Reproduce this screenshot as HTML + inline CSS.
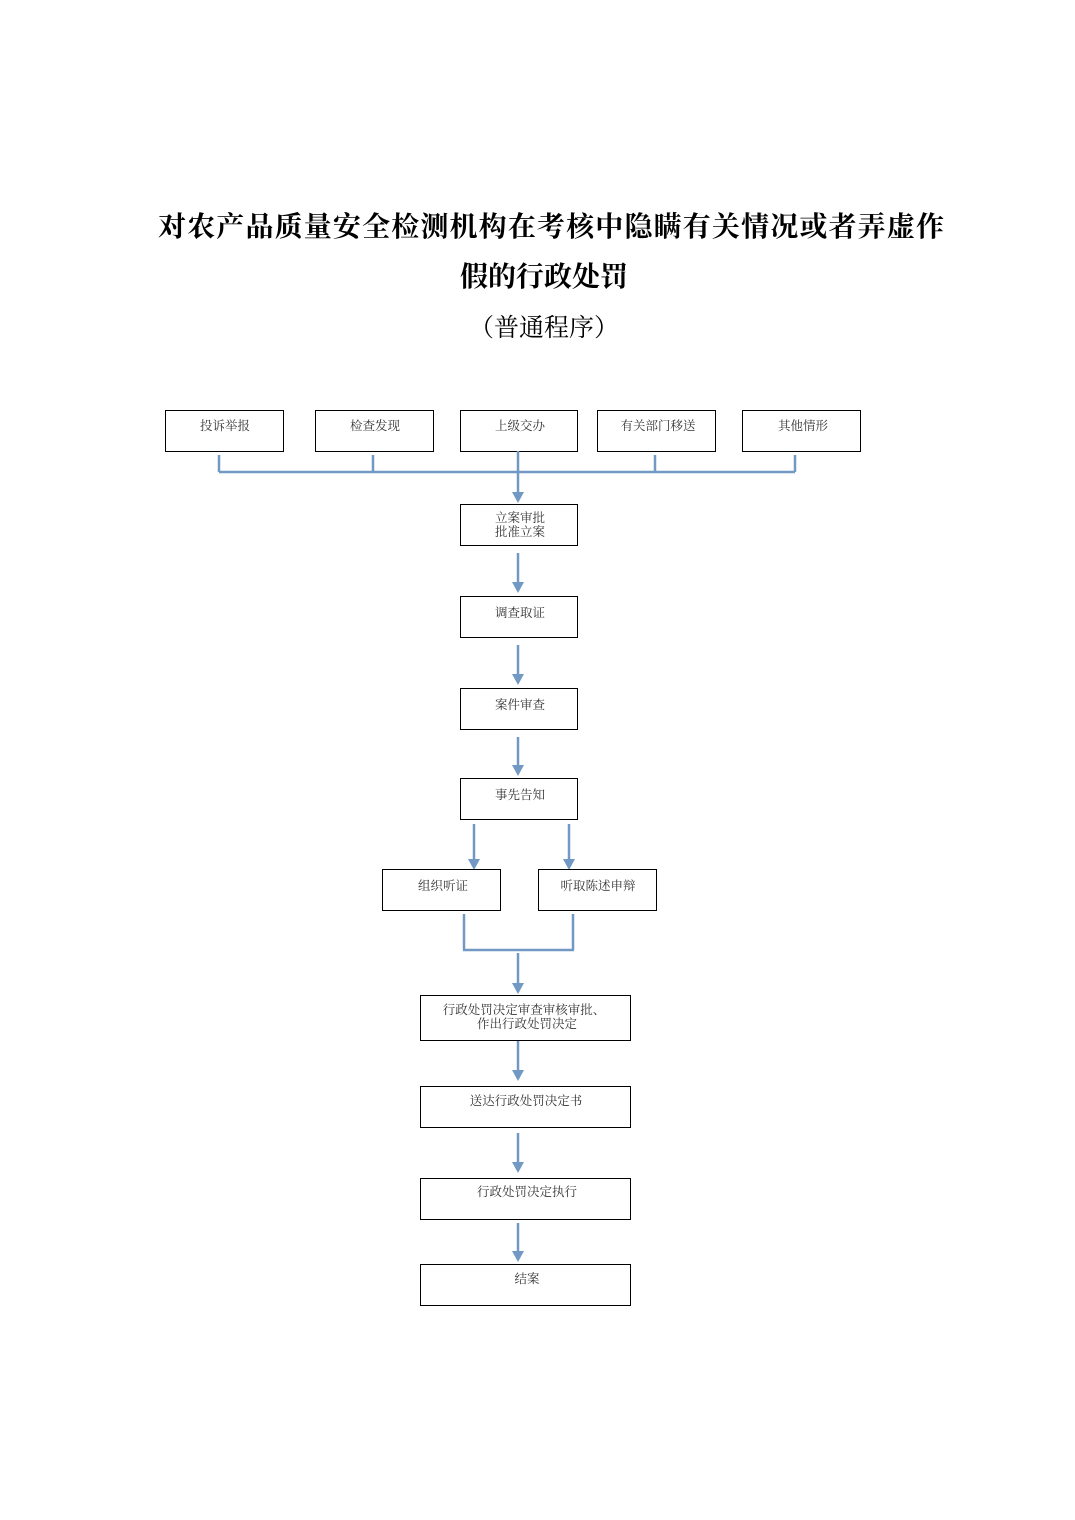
<!DOCTYPE html>
<html><head><meta charset="utf-8"><style>
html,body{margin:0;padding:0;background:#fff;}
svg{display:block}
.t{font-family:"Liberation Serif","Noto Serif CJK SC",serif;font-weight:bold;font-size:28px;fill:#000}
.s{font-family:"Liberation Serif","Noto Serif CJK SC",serif;font-size:25px;fill:#000}
.b{fill:#fff;stroke:#000;stroke-width:1}
.l{font-family:"Liberation Serif","Noto Serif CJK SC",serif;font-size:12.5px;fill:#333}
.c{stroke:#7199c4;stroke-width:2.5;fill:none}
.a{fill:#7199c4}
</style></head><body>
<svg width="1075" height="1520" viewBox="0 0 1075 1520" xmlns="http://www.w3.org/2000/svg">
<text class="t" x="551" y="236" text-anchor="middle" textLength="786">对农产品质量安全检测机构在考核中隐瞒有关情况或者弄虚作</text>
<text class="t" x="544" y="286" text-anchor="middle">假的行政处罚</text>
<text class="s" x="544" y="336" text-anchor="middle">（普通程序）</text>

<g>
<rect class="b" x="165.5" y="410.5" width="118" height="41"/>
<rect class="b" x="315.5" y="410.5" width="118" height="41"/>
<rect class="b" x="460.5" y="410.5" width="117" height="41"/>
<rect class="b" x="597.5" y="410.5" width="118" height="41"/>
<rect class="b" x="742.5" y="410.5" width="118" height="41"/>
<text class="l" x="225" y="430" text-anchor="middle">投诉举报</text>
<text class="l" x="375" y="430" text-anchor="middle">检查发现</text>
<text class="l" x="520" y="430" text-anchor="middle">上级交办</text>
<text class="l" x="658" y="430" text-anchor="middle">有关部门移送</text>
<text class="l" x="803" y="430" text-anchor="middle">其他情形</text>
</g>
<path class="c" d="M219 455V472M373 455V472M655 455V472M795 455V472M219 472H795M518 451V494"/>
<polygon class="a" points="512,492 524,492 518,503"/>

<rect class="b" x="460.5" y="504.5" width="117" height="41"/>
<text class="l" x="520" y="522" text-anchor="middle">立案审批</text>
<text class="l" x="520" y="536" text-anchor="middle">批准立案</text>
<path class="c" d="M518 553V584"/><polygon class="a" points="512,582 524,582 518,593"/>

<rect class="b" x="460.5" y="596.5" width="117" height="41"/>
<text class="l" x="520" y="617" text-anchor="middle">调查取证</text>
<path class="c" d="M518 645V676"/><polygon class="a" points="512,674 524,674 518,685"/>

<rect class="b" x="460.5" y="688.5" width="117" height="41"/>
<text class="l" x="520" y="709" text-anchor="middle">案件审查</text>
<path class="c" d="M518 737V767"/><polygon class="a" points="512,765 524,765 518,776"/>

<rect class="b" x="460.5" y="778.5" width="117" height="41"/>
<text class="l" x="520" y="799" text-anchor="middle">事先告知</text>
<path class="c" d="M474 824V861M569 824V861"/>
<polygon class="a" points="468,859 480,859 474,870"/><polygon class="a" points="563,859 575,859 569,870"/>

<rect class="b" x="382.5" y="869.5" width="118" height="41"/>
<rect class="b" x="538.5" y="869.5" width="118" height="41"/>
<text class="l" x="443" y="890" text-anchor="middle">组织听证</text>
<text class="l" x="598" y="890" text-anchor="middle">听取陈述申辩</text>
<path class="c" d="M464 914V950M573 914V950M463 950H574M518 953V985"/>
<polygon class="a" points="512,983 524,983 518,994"/>

<rect class="b" x="420.5" y="995.5" width="210" height="45"/>
<text class="l" x="524" y="1014" text-anchor="middle">行政处罚决定审查审核审批、</text>
<text class="l" x="527" y="1028" text-anchor="middle">作出行政处罚决定</text>
<path class="c" d="M518 1041V1072"/><polygon class="a" points="512,1070 524,1070 518,1081"/>

<rect class="b" x="420.5" y="1086.5" width="210" height="41"/>
<text class="l" x="526" y="1105" text-anchor="middle">送达行政处罚决定书</text>
<path class="c" d="M518 1133V1164"/><polygon class="a" points="512,1162 524,1162 518,1173"/>

<rect class="b" x="420.5" y="1178.5" width="210" height="41"/>
<text class="l" x="527" y="1196" text-anchor="middle">行政处罚决定执行</text>
<path class="c" d="M518 1223V1253"/><polygon class="a" points="512,1251 524,1251 518,1262"/>

<rect class="b" x="420.5" y="1264.5" width="210" height="41"/>
<text class="l" x="527" y="1283" text-anchor="middle">结案</text>
</svg>
</body></html>
